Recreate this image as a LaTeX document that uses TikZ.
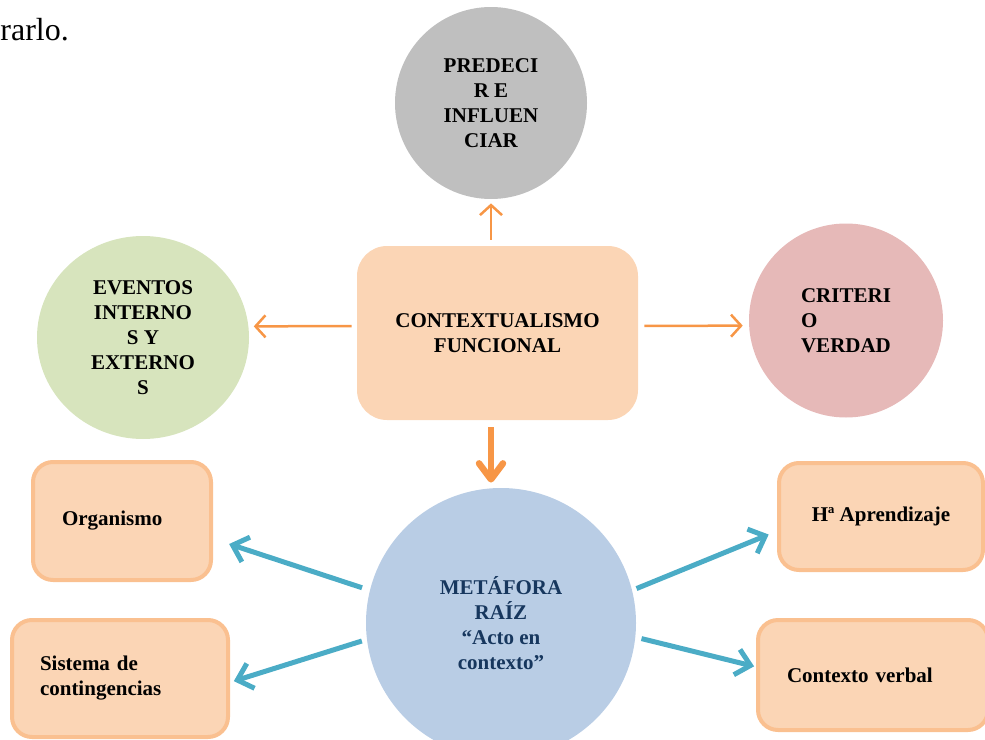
\documentclass[tikz,border=0pt]{standalone}
\usepackage{fontspec}
\setmainfont{Liberation Serif}
\usepackage{xcolor}
\usetikzlibrary{arrows.meta,shapes.geometric}

\definecolor{peach}{HTML}{FBD5B5}
\definecolor{cardline}{HTML}{FAC090}
\definecolor{arrowor}{HTML}{F79646}
\definecolor{arrowbl}{HTML}{4BACC6}
\definecolor{navytext}{HTML}{17375E}

\begin{document}
\begin{tikzpicture}[x=0.5pt,y=-0.5pt,
    font=\fontsize{10.5}{12.5}\selectfont\bfseries,
    bubble/.style={circle,inner sep=0pt,align=center},
    card/.style={draw=cardline,line width=2pt,fill=peach,rounded corners=10pt,inner ysep=0pt},
    orangearrow/.style={draw=arrowor,line width=1.25pt,-{Straight Barb[length=5pt,width=11pt]}},
    bluearrow/.style={draw=arrowbl,line width=2.5pt,-{Straight Barb[length=7pt,width=13pt]}}]
    \clip (0,0) rectangle (985,739);

    % Text above
    \node[anchor=base west,inner sep=0pt,font=\fontsize{16}{19}\selectfont] (lead) at (0,40) {rarlo.};

    % Center
    \node[fill=peach,rounded corners=15pt,minimum width=140.5pt,minimum height=87pt,align=center] (ctx) at (497.5,333) {CONTEXTUALISMO\\FUNCIONAL};

    % Circles
    \node[bubble,fill=black!25,minimum size=96pt] (pred) at (491,103) {PREDECI\\R E\\INFLUEN\\CIAR};
    \node[ellipse,inner sep=0pt,align=center,fill={rgb,255:red,215;green,228;blue,189},minimum width=106pt,minimum height=101.5pt] (ev) at (143,337.5) {EVENTOS\\INTERNO\\S Y\\EXTERNO\\S};
    \node[bubble,fill={rgb,255:red,230;green,185;blue,184},minimum size=97pt,align=left] (crit) at (846,320.5) {CRITERI\\O\\VERDAD};
    \node[bubble,fill={rgb,255:red,185;green,205;blue,229},minimum size=135pt,text=navytext] (meta) at (501,623) {METÁFORA\\RAÍZ\\“Acto en\\contexto”};

    % Boxes
    \node[card,minimum height=59pt,text width=60pt,inner xsep=14.5pt,align=left] (org) at (122,521) {Organismo};
    \node[card,minimum height=58.5pt,text width=80pt,inner xsep=14pt,align=left] (sys) at (120,678.5) {Sistema de\\contingencias};
    \node[card,minimum height=53.5pt,minimum width=102pt,align=center] (hist) at (881,516.5) {Hª Aprendizaje};
    \node[card,minimum height=55pt,text width=86pt,inner xsep=14.5pt,align=left] (verb) at (873,675) {Contexto verbal};

    % Orange arrows
    \draw[orangearrow,shorten <=3pt,shorten >=2pt] (ctx.north -| pred.south) -- (pred.south);
    \draw[orangearrow,shorten <=2.5pt,shorten >=2.5pt] ([yshift=3.5pt]ctx.west) -- (ev.6);
    \draw[orangearrow,shorten <=3pt,shorten >=3pt] ([yshift=3.5pt]ctx.east) -- (crit.183.2);
    \draw[draw=arrowor,line width=3.25pt,-{Straight Barb[length=8pt,width=12pt,round]},shorten <=3.5pt,shorten >=2.5pt] (ctx.south -| pred.south) -- (meta.north -| pred.south);

    % Blue arrows
    \draw[bluearrow,shorten <=4pt,shorten >=8.5pt] (meta.166.6) -- (org.-11.7);
    \draw[bluearrow,shorten <=2.5pt,shorten >=2pt] (meta.187) -- (sys.-2.3);
    \draw[bluearrow,shorten <=2.25pt,shorten >=4.5pt] (meta.14.9) -- (hist.188.5);
    \draw[bluearrow,shorten <=3pt,shorten >=1pt] (meta.-6.9) -- (verb.176.5);
\end{tikzpicture}
\end{document}
